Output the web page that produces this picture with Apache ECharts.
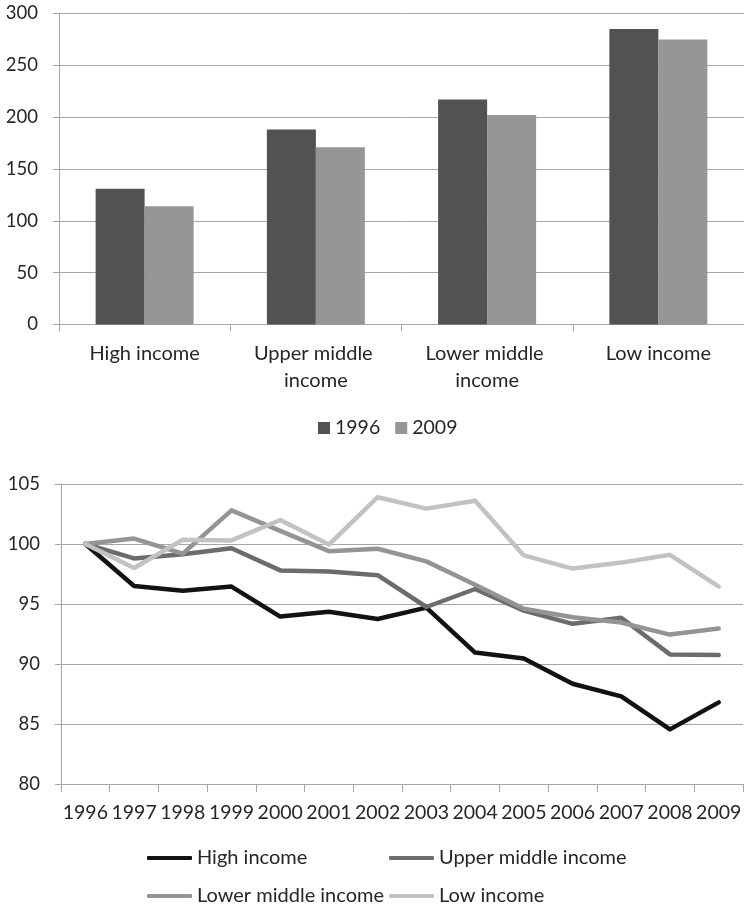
<!DOCTYPE html>
<html>
<head>
<meta charset="utf-8">
<script src="https://cdn.jsdelivr.net/npm/echarts@6/dist/echarts.min.js"></script>
<style>
html,body{margin:0;padding:0;background:#fff;}
#chart{width:744px;height:909px;}
</style>
</head>
<body>
<div id="chart"></div>
<script>
// ---- Data: top bar chart ----
var barCategories = ['High income', 'Upper middle income', 'Lower middle income', 'Low income'];
var bar1996 = [131, 188, 217, 285];
var bar2009 = [114, 171, 202, 275];
var barYTicks = {min: 0, max: 300, interval: 50};

// ---- Data: bottom line chart ----
var years = ['1996','1997','1998','1999','2000','2001','2002','2003','2004','2005','2006','2007','2008','2009'];
var highIncome        = [100, 96.5, 96.1, 96.45, 93.95, 94.35, 93.75, 94.7, 90.95, 90.45, 88.35, 87.3, 84.55, 86.8];
var upperMiddleIncome = [100, 98.8, 99.15, 99.65, 97.8, 97.7, 97.4, 94.75, 96.25, 94.45, 93.35, 93.85, 90.8, 90.75];
var lowerMiddleIncome = [100, 100.45, 99.2, 102.8, 101.1, 99.4, 99.6, 98.55, 96.6, 94.6, 93.9, 93.45, 92.45, 92.95];
var lowIncome         = [100, 98.0, 100.35, 100.3, 102.0, 99.95, 103.9, 102.95, 103.6, 99.05, 97.95, 98.45, 99.1, 96.45];
var lineYTicks = {min: 80, max: 105, interval: 5};

var FONT = 'Lato';
var TXT = '#262626';
var GRID = '#a6a6a6';

var chart = echarts.init(document.getElementById('chart'), null, {renderer: 'canvas'});

function legendItem(name, left, top) {
  return {
    data: [name], left: left, top: top, orient: 'horizontal',
    icon: 'roundRect', itemWidth: 45, itemHeight: 4, padding: 0,
    textStyle: {fontFamily: FONT, fontSize: 20, color: TXT},
    selectedMode: false
  };
}

var option = {
  backgroundColor: '#ffffff',
  animation: false,
  textStyle: {fontFamily: FONT},
  grid: [
    {left: 59, right: -7, top: 13.5, height: 311},
    {left: 61, right: -8, top: 484, height: 300}
  ],
  legend: [
    {
      data: ['1996', '2009'], left: 318, top: 418, padding: 0,
      icon: 'rect', itemWidth: 12, itemHeight: 12, itemGap: 15,
      textStyle: {fontFamily: FONT, fontSize: 19.5, color: TXT},
      selectedMode: false
    },
    legendItem('High income', 147, 848),
    legendItem('Upper middle income', 389, 848),
    legendItem('Lower middle income', 147, 886),
    legendItem('Low income', 389, 886)
  ],
  xAxis: [
    {
      type: 'category', gridIndex: 0, data: barCategories, boundaryGap: true,
      axisLine: {show: true, lineStyle: {color: GRID, width: 1}},
      axisTick: {show: true, length: 7, lineStyle: {color: GRID}},
      axisLabel: {fontFamily: FONT, fontSize: 20, color: TXT, margin: 16,
                  width: 135, overflow: 'break', lineHeight: 27, interval: 0}
    },
    {
      type: 'category', gridIndex: 1, data: years, boundaryGap: true,
      axisLine: {show: true, lineStyle: {color: GRID, width: 1}},
      axisTick: {show: true, length: 8, lineStyle: {color: GRID}},
      axisLabel: {fontFamily: FONT, fontSize: 19.5, color: TXT, margin: 19, interval: 0}
    }
  ],
  yAxis: [
    {
      type: 'value', gridIndex: 0, min: barYTicks.min, max: barYTicks.max, interval: barYTicks.interval,
      axisLine: {show: true, lineStyle: {color: GRID}},
      axisTick: {show: true, length: 6, lineStyle: {color: GRID}},
      splitLine: {show: true, lineStyle: {color: GRID, width: 1}},
      axisLabel: {fontFamily: FONT, fontSize: 18.5, color: TXT, margin: 21}
    },
    {
      type: 'value', gridIndex: 1, min: lineYTicks.min, max: lineYTicks.max, interval: lineYTicks.interval,
      axisLine: {show: true, lineStyle: {color: GRID}},
      axisTick: {show: true, length: 6, lineStyle: {color: GRID}},
      splitLine: {show: true, lineStyle: {color: GRID, width: 1}},
      axisLabel: {fontFamily: FONT, fontSize: 18.5, color: TXT, margin: 21}
    }
  ],
  series: [
    {name: '1996', type: 'bar', xAxisIndex: 0, yAxisIndex: 0, data: bar1996,
     barWidth: 49, barGap: '0%', itemStyle: {color: '#505254'}},
    {name: '2009', type: 'bar', xAxisIndex: 0, yAxisIndex: 0, data: bar2009,
     barWidth: 49, barGap: '0%', itemStyle: {color: '#959697'}},
    {name: 'High income', type: 'line', xAxisIndex: 1, yAxisIndex: 1, data: highIncome,
     showSymbol: false, symbol: 'none', lineStyle: {color: '#111213', width: 4.5, join: 'round', cap: 'round'},
     itemStyle: {color: '#111213'}},
    {name: 'Upper middle income', type: 'line', xAxisIndex: 1, yAxisIndex: 1, data: upperMiddleIncome,
     showSymbol: false, symbol: 'none', lineStyle: {color: '#6b6c6e', width: 4.5, join: 'round', cap: 'round'},
     itemStyle: {color: '#6b6c6e'}},
    {name: 'Lower middle income', type: 'line', xAxisIndex: 1, yAxisIndex: 1, data: lowerMiddleIncome,
     showSymbol: false, symbol: 'none', lineStyle: {color: '#939495', width: 4.5, join: 'round', cap: 'round'},
     itemStyle: {color: '#939495'}},
    {name: 'Low income', type: 'line', xAxisIndex: 1, yAxisIndex: 1, data: lowIncome,
     showSymbol: false, symbol: 'none', lineStyle: {color: '#c1c2c3', width: 4.5, join: 'round', cap: 'round'},
     itemStyle: {color: '#c1c2c3'}}
  ]
};
chart.setOption(option);
</script>
</body>
</html>
